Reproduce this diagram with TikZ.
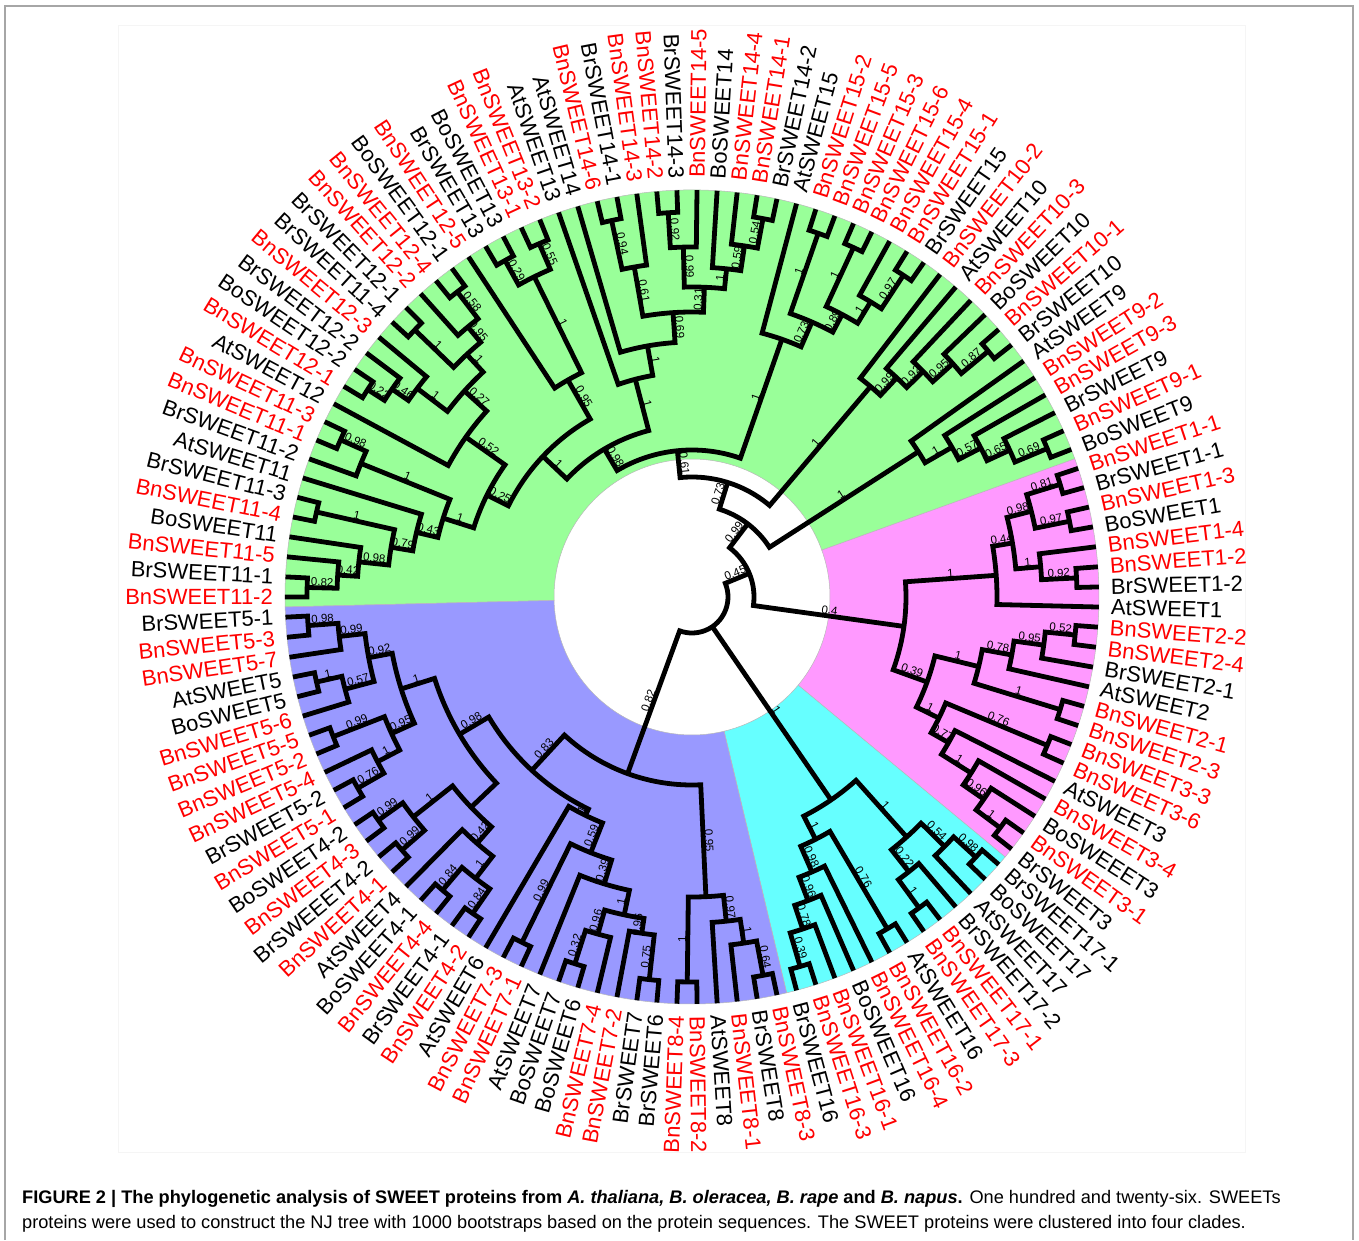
\documentclass[tikz,border=0pt]{standalone}
\usepackage{fontspec}
\setmainfont{Liberation Sans}
\definecolor{cladegreen}{RGB}{153,255,153}
\definecolor{cladepink}{RGB}{255,153,255}
\definecolor{cladecyan}{RGB}{102,255,255}
\definecolor{cladeblue}{RGB}{153,153,255}
\definecolor{bnred}{RGB}{255,0,0}

% angle of leaf 1, step between leaves, radii (pt)
\def\thz{180}
\def\dth{2.8346}
\def\rtip{407}
\def\rlab{419}

% bootstrap value of a child, half way along its stem
\newcommand\bslabel[2]{%
  \ifcsname B#1\endcsname
    \edef\lA{\csname A#1\endcsname}%
    \edef\lRc{\csname R#1\endcsname}%
    \pgfmathsetmacro\lR{(#2+\lRc)/2}%
    \pgfmathtruncatemacro\lS{cos(\lA)>=0}%
    \ifnum\lS=1 \pgfmathsetmacro\lRot{\lA}\else\pgfmathsetmacro\lRot{\lA+180}\fi
    \node[bslab, rotate=\lRot, anchor=south] at (\lA:\lR pt) {\csname B#1\endcsname};
  \fi}

% inner node: [bootstrap]{name}{radius}{child 1}{child 2}
\newcommand\nd[5][]{%
  \edef\nA{\csname A#4\endcsname}\edef\nB{\csname A#5\endcsname}%
  \edef\nRa{\csname R#4\endcsname}\edef\nRb{\csname R#5\endcsname}%
  \draw[branch] (\nA:\nRa pt) -- (\nA:#3pt) arc[start angle=\nA, end angle=\nB, radius=#3pt] -- (\nB:\nRb pt);
  \bslabel{#4}{#3}\bslabel{#5}{#3}%
  \pgfmathsetmacro\nM{(\nA+\nB)/2}%
  \expandafter\xdef\csname A#2\endcsname{\nM}%
  \expandafter\xdef\csname R#2\endcsname{#3}%
  \if\relax\detokenize{#1}\relax\else\expandafter\xdef\csname B#2\endcsname{#1}\fi}

% root with three children
\newcommand\ndiii[5]{%
  \edef\nA{\csname A#3\endcsname}\edef\nB{\csname A#4\endcsname}\edef\nC{\csname A#5\endcsname}%
  \edef\nRa{\csname R#3\endcsname}\edef\nRb{\csname R#4\endcsname}\edef\nRc{\csname R#5\endcsname}%
  \draw[branch] (\nA:\nRa pt) -- (\nA:#2pt) arc[start angle=\nA, end angle=\nC, radius=#2pt] -- (\nC:\nRc pt);
  \draw[branch] (\nB:#2pt) -- (\nB:\nRb pt);
  \bslabel{#3}{#2}\bslabel{#4}{#2}\bslabel{#5}{#2}}

\newcommand\cladewedge[3]{% colour, from, to
  \filldraw[wedge, fill=#1] (#2:138pt) arc[start angle=#2, end angle=#3, radius=138pt]
    -- (#3:\rtip pt) arc[start angle=#3, end angle=#2, radius=\rtip pt] -- cycle;}

\begin{document}
\begin{tikzpicture}

  \tikzstyle{leaflab} = [font=\fontsize{22}{22}\selectfont, inner sep=0pt]
  \tikzstyle{bslab} = [font=\fontsize{11.5}{11.5}\selectfont, inner sep=1.5pt]
  \tikzstyle{branch} = [line width=4.8pt, line join=miter]
  \tikzstyle{wedge} = [draw=gray!55, line width=0.5pt]

  \useasboundingbox (-692pt,-643pt) rectangle (667pt,597pt);
  \draw[gray!70, line width=1.2pt] (-687pt,-643pt) -- (-687pt,591pt) -- (661pt,591pt) -- (661pt,-643pt);
  \draw[gray!8] (-574pt,572pt) rectangle (553pt,-555pt);

  \cladewedge{cladegreen}{181.4}{19.85}
  \cladewedge{cladepink}{19.85}{-39.7}
  \cladewedge{cladecyan}{-39.7}{-76.55}
  \cladewedge{cladeblue}{-76.55}{-178.6}

  % leaves, clockwise from the left
  \foreach \lab/\col [count=\k] in {
    BnSWEET11-2/bnred, BrSWEET11-1/black, BnSWEET11-5/bnred, BoSWEET11/black,
    BnSWEET11-4/bnred, BrSWEET11-3/black, AtSWEET11/black, BrSWEET11-2/black,
    BnSWEET11-1/bnred, BnSWEET11-3/bnred, AtSWEET12/black, BnSWEET12-1/bnred,
    BoSWEET12-2/black, BrSWEET12-2/black, BnSWEET12-3/bnred, BrSWEET11-4/black,
    BrSWEET12-1/black, BnSWEET12-2/bnred, BnSWEET12-4/bnred, BoSWEET12-1/black,
    BnSWEET12-5/bnred, BrSWEET13/black, BoSWEET13/black, BnSWEET13-1/bnred,
    BnSWEET13-2/bnred, AtSWEET13/black, AtSWEET14/black, BnSWEET14-6/bnred,
    BrSWEET14-1/black, BnSWEET14-3/bnred, BnSWEET14-2/bnred, BrSWEET14-3/black,
    BnSWEET14-5/bnred, BoSWEET14/black, BnSWEET14-4/bnred, BnSWEET14-1/bnred,
    BrSWEET14-2/black, AtSWEET15/black, BnSWEET15-2/bnred, BnSWEET15-5/bnred,
    BnSWEET15-3/bnred, BnSWEET15-6/bnred, BnSWEET15-4/bnred, BnSWEET15-1/bnred,
    BrSWEET15/black, BnSWEET10-2/bnred, AtSWEET10/black, BnSWEET10-3/bnred,
    BoSWEET10/black, BnSWEET10-1/bnred, BrSWEET10/black, AtSWEET9/black,
    BnSWEET9-2/bnred, BnSWEET9-3/bnred, BrSWEET9/black, BnSWEET9-1/bnred,
    BoSWEET9/black, BnSWEET1-1/bnred, BrSWEET1-1/black, BnSWEET1-3/bnred,
    BoSWEET1/black, BnSWEET1-4/bnred, BnSWEET1-2/bnred, BrSWEET1-2/black,
    AtSWEET1/black, BnSWEET2-2/bnred, BnSWEET2-4/bnred, BrSWEET2-1/black,
    AtSWEET2/black, BnSWEET2-1/bnred, BnSWEET2-3/bnred, BnSWEET3-3/bnred,
    BnSWEET3-6/bnred, AtSWEET3/black, BnSWEET3-4/bnred, BoSWEEET3/black,
    BnSWEET3-1/bnred, BrSWEET3/black, BrSWEET17-1/black, BoSWEET17/black,
    AtSWEET17/black, BrSWEET17-2/black, BnSWEET17-1/bnred, BnSWEET17-3/bnred,
    AtSWEET16/black, BnSWEET16-2/bnred, BnSWEET16-4/bnred, BoSWEET16/black,
    BnSWEET16-1/bnred, BnSWEET16-3/bnred, BrSWEET16/black, BnSWEET8-3/bnred,
    BrSWEET8/black, BnSWEET8-1/bnred, AtSWEET8/black, BnSWEET8-2/bnred,
    BnSWEET8-4/bnred, BrSWEET6/black, BrSWEET7/black, BnSWEET7-2/bnred,
    BnSWEET7-4/bnred, BoSWEET6/black, BoSWEET7/black, AtSWEET7/black,
    BnSWEET7-1/bnred, BnSWEET7-3/bnred, AtSWEET6/black, BnSWEET4-2/bnred,
    BrSWEET4-1/black, BnSWEET4-4/bnred, BoSWEET4-1/black, AtSWEET4/black,
    BnSWEET4-1/bnred, BrSWEEET4-2/black, BnSWEET4-3/bnred, BoSWEET4-2/black,
    BnSWEET5-1/bnred, BrSWEET5-2/black, BnSWEET5-4/bnred, BnSWEET5-2/bnred,
    BnSWEET5-5/bnred, BnSWEET5-6/bnred, BoSWEET5/black, AtSWEET5/black,
    BnSWEET5-7/bnred, BnSWEET5-3/bnred, BrSWEET5-1/black} {
    \pgfmathsetmacro\ang{\thz-(\k-1)*\dth}
    \expandafter\xdef\csname AL\k\endcsname{\ang}
    \expandafter\xdef\csname RL\k\endcsname{\rtip}
    \pgfmathtruncatemacro\side{cos(\ang)>=0}
    \ifnum\side=1
      \node[leaflab, text=\col, rotate=\ang, anchor=west] (L\k) at (\ang:\rlab pt) {\lab};
    \else
      \pgfmathsetmacro\angr{\ang+180}
      \node[leaflab, text=\col, rotate=\angr, anchor=east] (L\k) at (\ang:\rlab pt) {\lab};
    \fi
  }

  % SWEET11
  \nd[0.82]{a11}{385}{L1}{L2}
  \nd[0.42]{b11}{355}{a11}{L3}
  \nd[0.98]{c11}{335}{b11}{L4}
  \nd[1]{d11}{385}{L5}{L6}
  \nd[0.79]{e11}{305}{c11}{d11}
  \nd[0.43]{f11}{283}{e11}{L7}
  \nd[0.98]{h11}{385}{L9}{L10}
  \nd[1]{i11}{357}{L8}{h11}
  \nd[1]{g11}{261}{f11}{i11}
  % SWEET12
  \nd[0.22]{a12}{385}{L12}{L13}
  \nd[0.46]{b12}{365}{a12}{L14}
  \nd[1]{c12}{345}{b12}{L15}
  \nd[1]{f12}{385}{L16}{L17}
  \nd[0.58]{g12}{385}{L19}{L20}
  \nd[0.95]{h12}{351}{L18}{g12}
  \nd[1]{i12}{331}{f12}{h12}
  \nd[0.27]{d12}{307}{c12}{i12}
  \nd[0.52]{u12}{277}{L11}{d12}
  \nd[0.25]{u1112}{229}{g11}{u12}
  % SWEET13
  \nd[0.29]{a13}{385}{L22}{L23}
  \nd[0.55]{b13}{385}{L24}{L25}
  \nd[1]{c13}{357}{a13}{b13}
  \nd[0.95]{n13}{250}{L21}{c13}
  \nd[1]{w13}{205}{u1112}{n13}
  % SWEET14
  \nd[0.94]{a14}{385}{L28}{L29}
  \nd[0.61]{b14}{335}{a14}{L30}
  \nd[0.92]{c14}{385}{L31}{L32}
  \nd[0.99]{d14}{350}{c14}{L33}
  \nd[0.54]{e14}{385}{L36}{L37}
  \nd[0.59]{f14}{355}{L35}{e14}
  \nd[1]{g14}{330}{L34}{f14}
  \nd[0.31]{h14}{310}{d14}{g14}
  \nd[0.69]{i14}{285}{b14}{h14}
  \nd[1]{j14}{255}{L27}{i14}
  \nd[1]{k14}{225}{L26}{j14}
  \nd[0.98]{t98}{172}{w13}{k14}
  % SWEET15
  \nd[1]{a15}{385}{L39}{L40}
  \nd[1]{b15}{385}{L41}{L42}
  \nd[0.97]{c15}{385}{L44}{L45}
  \nd[1]{d15}{345}{L43}{c15}
  \nd[0.89]{e15}{320}{b15}{d15}
  \nd[0.73]{f15}{300}{a15}{e15}
  \nd[1]{g15}{273}{L38}{f15}
  \nd[0.61]{t61}{147}{t98}{g15}
  % SWEET10
  \nd[0.87]{a10}{385}{L50}{L51}
  \nd[0.95]{b10}{350}{L49}{a10}
  \nd[0.92]{c10}{323}{L48}{b10}
  \nd[0.99]{d10}{300}{L47}{c10}
  \nd[1]{e10}{276}{L46}{d10}
  \nd[0.73]{t73}{120}{t61}{e10}
  % SWEET9
  \nd[0.69]{a9}{385}{L56}{L57}
  \nd[0.65]{b9}{350}{L55}{a9}
  \nd[0.57]{c9}{325}{L54}{b9}
  \nd[1]{d9}{300}{L53}{c9}
  \nd[1]{e9}{269}{L52}{d9}
  \nd[0.99]{t99}{92}{t73}{e9}
  % SWEET1-3
  \nd[0.81]{a1}{385}{L58}{L59}
  \nd[0.97]{b1}{385}{L60}{L61}
  \nd[0.98]{c1}{350}{a1}{b1}
  \nd[0.92]{d1}{385}{L63}{L64}
  \nd[1]{e1}{350}{L62}{d1}
  \nd[0.44]{f1}{325}{c1}{e1}
  \nd[1]{g1}{305}{f1}{L65}
  \nd[0.52]{a2}{385}{L66}{L67}
  \nd[0.95]{b2}{355}{a2}{L68}
  \nd[0.78]{c2}{325}{b2}{L69}
  \nd[1]{d2}{385}{L70}{L71}
  \nd[1]{e2}{295}{c2}{d2}
  \nd[0.76]{a3}{385}{L72}{L73}
  \nd[1]{b3}{385}{L77}{L78}
  \nd[0.96]{c3}{355}{L76}{b3}
  \nd[1]{d3}{330}{L75}{c3}
  \nd[0.77]{e3}{295}{L74}{d3}
  \nd[1]{f3}{275}{a3}{e3}
  \nd[0.39]{m23}{250}{e2}{f3}
  \nd[0.4]{mr}{214}{g1}{m23}
  \nd[0.45]{t45}{62}{t99}{mr}
  % SWEET16-17
  \nd[0.98]{a17}{385}{L79}{L80}
  \nd[0.54]{b17}{355}{a17}{L81}
  \nd[1]{c17}{385}{L83}{L84}
  \nd[0.22]{d17}{350}{L82}{c17}
  \nd[1]{e17}{322}{b17}{d17}
  \nd[0.39]{a16}{385}{L90}{L91}
  \nd[0.78]{b16}{350}{L89}{a16}
  \nd[0.96]{c16}{325}{L88}{b16}
  \nd[0.98]{d16}{300}{L87}{c16}
  \nd[0.76]{e16}{385}{L85}{L86}
  \nd[1]{f16}{272}{e16}{d16}
  \nd[1]{cr}{246}{e17}{f16}
  % SWEET8
  \nd[0.64]{a8}{385}{L92}{L93}
  \nd[1]{b8}{350}{a8}{L94}
  \nd[0.97]{c8}{326}{b8}{L95}
  \nd[1]{d8}{385}{L96}{L97}
  \nd[0.95]{e8}{300}{c8}{d8}
  % SWEET6-7
  \nd[0.75]{a7}{385}{L98}{L99}
  \nd[0.96]{b7}{340}{a7}{L100}
  \nd[0.32]{c7}{385}{L102}{L103}
  \nd[0.96]{d7}{350}{L101}{c7}
  \nd[1]{e7}{325}{b7}{d7}
  \nd[0.39]{f7}{300}{e7}{L104}
  \nd[0.99]{g7}{385}{L105}{L106}
  \nd[0.59]{h7}{275}{f7}{g7}
  \nd[1]{i7}{243}{h7}{L107}
  % SWEET4
  \nd[0.84]{a4}{385}{L108}{L109}
  \nd[0.84]{b4}{385}{L110}{L111}
  \nd[1]{c4}{355}{a4}{b4}
  \nd[0.42]{d4}{327}{c4}{L112}
  \nd[0.99]{e4}{385}{L113}{L114}
  \nd[0.99]{f4}{385}{L115}{L116}
  \nd[1]{g4}{355}{e4}{f4}
  \nd{h4}{305}{d4}{g4}
  % SWEET5
  \nd[0.76]{a5}{385}{L117}{L118}
  \nd[1]{b5}{355}{a5}{L119}
  \nd[0.99]{c5}{385}{L120}{L121}
  \nd[0.95]{d5}{330}{c5}{b5}
  \nd[1]{e5}{385}{L123}{L124}
  \nd[0.57]{f5}{359}{L122}{e5}
  \nd[0.98]{g5}{385}{L126}{L127}
  \nd[0.99]{h5}{355}{L125}{g5}
  \nd[0.92]{i5}{329}{f5}{h5}
  \nd[1]{j5}{305}{d5}{i5}
  \nd[0.98]{k45}{270}{h4}{j5}
  \nd[0.83]{t83}{236}{i7}{k45}
  \nd[0.82]{br}{188}{e8}{t83}
  % root
  \ndiii{root}{36}{t45}{cr}{br}

  % caption
  \node[anchor=base west, font=\fontsize{18.2}{21}\selectfont, inner sep=0pt] (cap1) at (-670pt,-606pt)
    {\textbf{FIGURE 2 | The phylogenetic analysis of SWEET proteins from \textit{A. thaliana, B. oleracea, B. rape} and \textit{B. napus}.} One hundred and twenty-six. SWEETs};
  \node[anchor=base west, font=\fontsize{18.2}{21}\selectfont, inner sep=0pt] (cap2) at (-670pt,-631pt)
    {proteins were used to construct the NJ tree with 1000 bootstraps based on the protein sequences. The SWEET proteins were clustered into four clades.};

\end{tikzpicture}
\end{document}
